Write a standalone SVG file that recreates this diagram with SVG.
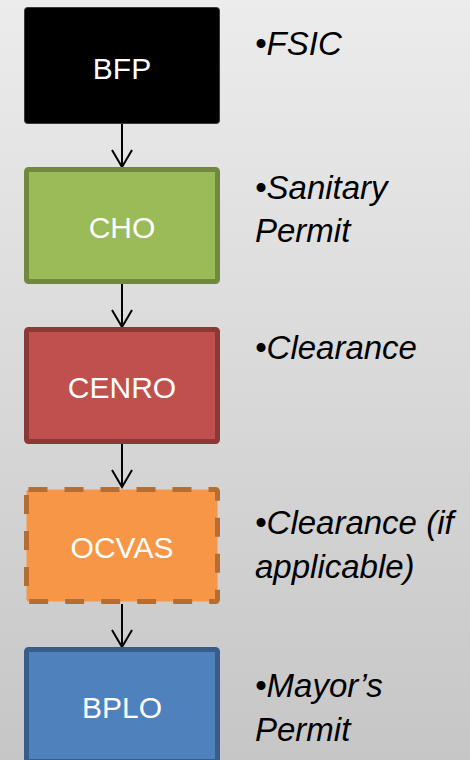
<svg xmlns="http://www.w3.org/2000/svg" width="470" height="760" viewBox="0 0 470 760">
<defs>
<linearGradient id="bg" x1="0" y1="0" x2="0" y2="1">
<stop offset="0" stop-color="#ececec"/>
<stop offset="1" stop-color="#c6c6c6"/>
</linearGradient>
<marker id="arr" viewBox="0 0 20 24" refX="18" refY="12" markerWidth="20" markerHeight="24" markerUnits="userSpaceOnUse" orient="auto">
<path d="M1,2 L18,12 L1,22" fill="none" stroke="#000" stroke-width="2"/>
</marker>
</defs>
<style>
.lbl{font-family:"Liberation Sans",Arial,sans-serif;font-size:30px;fill:#fff;text-anchor:middle}
.note{font-family:"Liberation Sans",Arial,sans-serif;font-size:33px;font-style:italic;fill:#000}
.con{stroke:#000;stroke-width:2;fill:none}
</style>
<rect width="470" height="760" fill="url(#bg)"/>
<g id="connectors">
<line class="con" x1="122" y1="124" x2="122" y2="167" marker-end="url(#arr)"/>
<line class="con" x1="122" y1="284" x2="122" y2="327" marker-end="url(#arr)"/>
<line class="con" x1="122" y1="444" x2="122" y2="487" marker-end="url(#arr)"/>
<line class="con" x1="122" y1="604" x2="122" y2="647" marker-end="url(#arr)"/>
</g>
<g id="bfp">
<rect x="24.5" y="7.5" width="195" height="116" rx="3" fill="#000" stroke="#3a3a3a" stroke-width="1"/>
<text class="lbl" x="122" y="79">BFP</text>
<text class="note" x="255" y="55">•FSIC</text>
</g>
<g id="cho">
<rect x="26.5" y="169.5" width="191" height="112" rx="2" fill="#9bbb59" stroke="#71893f" stroke-width="5"/>
<text class="lbl" x="122" y="238">CHO</text>
<text class="note" x="255" y="199">•Sanitary</text>
<text class="note" x="255" y="242">Permit</text>
</g>
<g id="cenro">
<rect x="26.5" y="329.5" width="191" height="112" rx="2" fill="#c0504d" stroke="#8c3836" stroke-width="5"/>
<text class="lbl" x="122" y="398">CENRO</text>
<text class="note" x="255" y="359">•Clearance</text>
</g>
<g id="ocvas">
<rect x="26.5" y="489.5" width="191" height="112" rx="2" fill="#f79646" stroke="#b66d31" stroke-width="5" stroke-dasharray="19 17"/>
<text class="lbl" x="122" y="558">OCVAS</text>
<text class="note" x="255" y="534">•Clearance (if</text>
<text class="note" x="255" y="578">applicable)</text>
</g>
<g id="bplo">
<rect x="26.5" y="649.5" width="191" height="112" rx="2" fill="#4f81bd" stroke="#385d8a" stroke-width="5"/>
<text class="lbl" x="122" y="718">BPLO</text>
<text class="note" x="255" y="697">•Mayor’s</text>
<text class="note" x="255" y="741">Permit</text>
</g>
</svg>
